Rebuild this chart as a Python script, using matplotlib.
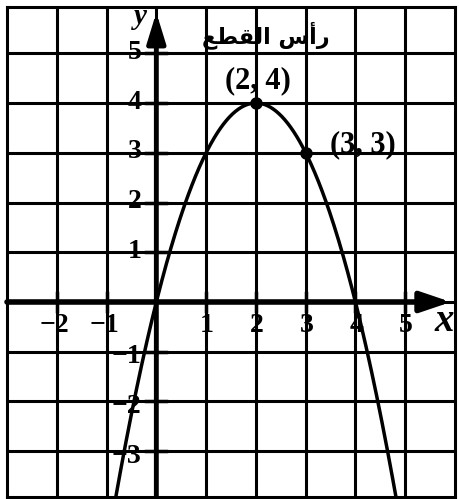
import numpy as np
import matplotlib.pyplot as plt

# parabola given by its vertex and one more point on it
VERTEX = (2, 4)
POINT = (3, 3)

X_TICKS = [-2, -1, 1, 2, 3, 4, 5]
Y_TICKS = [-3, -2, -1, 1, 2, 3, 4, 5]
X_GRID = [-2, -1, 0, 1, 2, 3, 4, 5]
Y_GRID = [-3, -2, -1, 0, 1, 2, 3, 4, 5]

# "رأس القطع" in presentation forms, visual order (matplotlib does no shaping)
VERTEX_LABEL = "\uFECA\uFEC4\uFED8\uFEDF\uFE8D \uFEB1\uFE83\uFEAD"

SERIF = ['Liberation Serif', 'DejaVu Serif']
FS = 20

fig = plt.figure(figsize=(4.60, 4.99), dpi=100)
ax = fig.add_axes([7 / 460, 2 / 499, 448 / 460, 490 / 499])
ax.set_xlim(-3, 6)
ax.set_ylim(-3.92, 5.93)
ax.set_xticks([])
ax.set_yticks([])
for sp in ax.spines.values():
    sp.set_linewidth(2.2)

for gx in X_GRID:
    ax.axvline(gx, color='black', lw=2.2, zorder=1)
for gy in Y_GRID:
    ax.axhline(gy, color='black', lw=2.2, zorder=1)

# axes with arrows
ax.annotate('', xy=(5.92, 0), xytext=(-3, 0),
            arrowprops=dict(arrowstyle='-|>,head_length=0.65,head_width=0.22',
                            lw=4, color='black', mutation_scale=28,
                            shrinkA=0, shrinkB=0),
            zorder=3)
ax.annotate('', xy=(0, 5.82), xytext=(0, -3.92),
            arrowprops=dict(arrowstyle='-|>,head_length=0.65,head_width=0.2',
                            lw=3.5, color='black', mutation_scale=28,
                            shrinkA=0, shrinkB=0),
            zorder=3)

# tick marks crossing the axes
for t in X_TICKS:
    ax.plot([t, t], [-0.18, 0.18], color='black', lw=2.5, zorder=3)
for t in Y_TICKS:
    ax.plot([-0.2, 0.2], [t, t], color='black', lw=2.5, zorder=3)

# curve
a = (POINT[1] - VERTEX[1]) / (POINT[0] - VERTEX[0]) ** 2
xs = np.linspace(-1.0, 5.0, 400)
ys = a * (xs - VERTEX[0]) ** 2 + VERTEX[1]
ax.plot(xs, ys, color='black', lw=2.5, zorder=4)
ax.plot([VERTEX[0], POINT[0]], [VERTEX[1], POINT[1]], 'o', color='black',
        ms=8, zorder=5)

# tick labels
for t in X_TICKS:
    lab = f'\u2212{-t}' if t < 0 else f'{t}'
    ax.text(t + (-0.05 if t < 0 else 0.02), -0.47, lab, ha='center',
            va='center', fontsize=FS, fontweight='bold', family=SERIF,
            zorder=6)
for t in Y_TICKS:
    lab = f'\u2212{-t}' if t < 0 else f'{t}'
    ax.text(-0.3, t + 0.02 if t > 0 else t - 0.1, lab, ha='right',
            va='center', fontsize=FS, fontweight='bold', family=SERIF,
            zorder=6)

ax.text(5.79, -0.40, 'x', ha='center', va='center', fontsize=28,
        fontweight='bold', fontstyle='italic', family=SERIF, zorder=6)
ax.text(-0.33, 5.73, 'y', ha='center', va='center', fontsize=21,
        fontweight='bold', fontstyle='italic', family=SERIF, zorder=6)

ax.text(2.04, 4.44, f'({VERTEX[0]}, {VERTEX[1]})', ha='center', va='center',
        fontsize=FS + 2, fontweight='bold', family=SERIF, zorder=6)
ax.text(4.15, 3.16, f'({POINT[0]}, {POINT[1]})', ha='center', va='center',
        fontsize=FS + 2, fontweight='bold', family=SERIF, zorder=6)
ax.text(2.2, 5.37, VERTEX_LABEL, ha='center', va='center', fontsize=16,
        fontweight='bold', family=['DejaVu Sans'], zorder=6)

fig.savefig('out.png', dpi=100)
